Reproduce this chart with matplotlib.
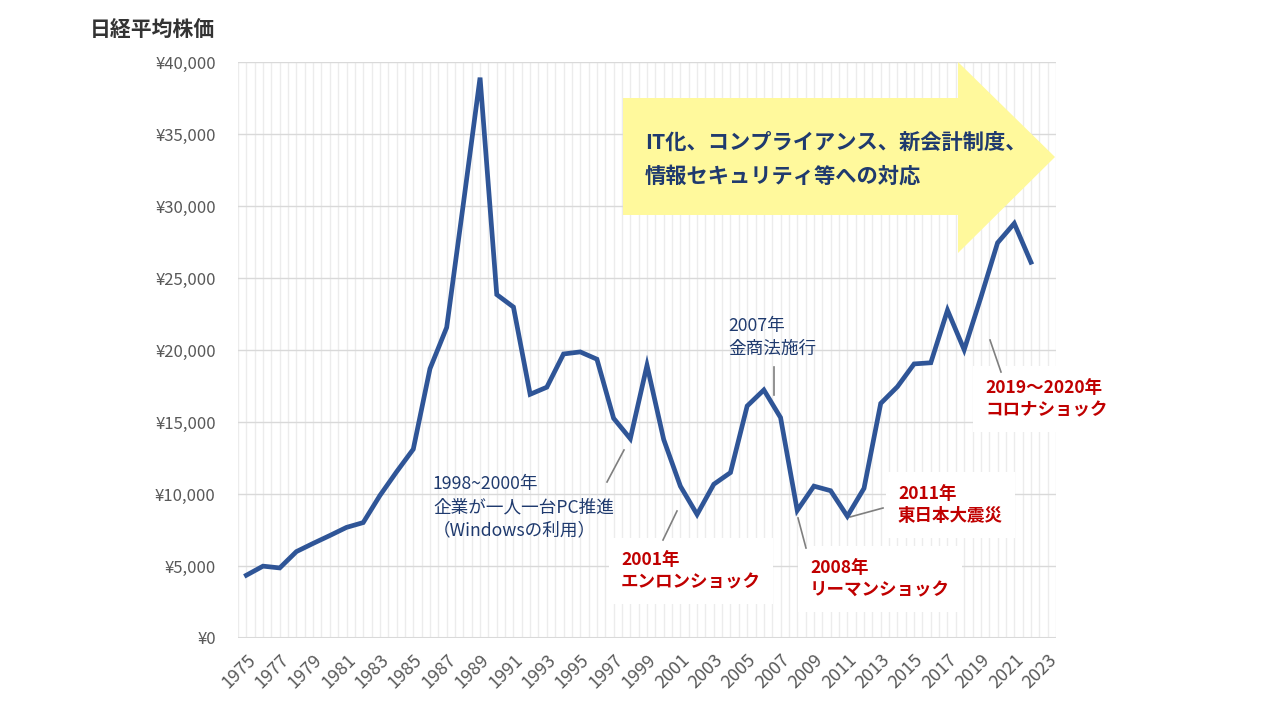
import matplotlib
matplotlib.use("Agg")
import matplotlib.pyplot as plt
from matplotlib.patches import Polygon
import numpy as np

plt.rcParams['font.family'] = ['Noto Sans CJK JP', 'DejaVu Sans']

# 日経平均株価 (年末終値)
years = list(range(1975, 2024))
nikkei = [4358, 4990, 4865, 6001, 6569, 7116, 7681, 8016, 9893, 11542,
          13113, 18701, 21564, 30159, 38915, 23848, 22983, 16924, 17417, 19723,
          19868, 19361, 15258, 13842, 18934, 13785, 10542, 8578, 10676, 11488,
          16111, 17225, 15307, 8859, 10546, 10228, 8455, 10395, 16291, 17450,
          19033, 19114, 22764, 20014, 23656, 27444, 28791, 26094]
y_ticks = [0, 5000, 10000, 15000, 20000, 25000, 30000, 35000, 40000]
y_labels = ['¥{:,}'.format(v) for v in y_ticks]

navy = '#1f3a6e'
red = '#c00000'
line_blue = '#2f5597'
gray_txt = '#595959'

# axes geometry in pixels (figure 1280x720)
AX_L, AX_R, AX_T, AX_B = 238, 1056, 62, 638
NCAT = len(years)
cat_w = (AX_R - AX_L) / NCAT


def px(x, y):
    # pixel position -> data coordinates (for annotation layout only)
    return (x - AX_L) / cat_w - 0.5, (AX_B - y) / (AX_B - AX_T) * 40000


fig = plt.figure(figsize=(12.8, 7.2), dpi=100)
ax = fig.add_axes([AX_L / 1280, 1 - AX_B / 720, (AX_R - AX_L) / 1280, (AX_B - AX_T) / 720])

idx = np.arange(NCAT)
ax.set_xlim(-0.5, NCAT - 0.5)
ax.set_ylim(0, 40000)

# grid
for g in np.arange(-0.5, NCAT - 0.4, 0.5):
    ax.axvline(g, color='#ececec', lw=1.0, zorder=0)
for v in y_ticks[1:]:
    ax.axhline(v, color='#d9d9d9', lw=1.0, zorder=0.5)
for s in ax.spines.values():
    s.set_visible(False)
ax.axhline(0, color='#d9d9d9', lw=1.5, zorder=0.5)

ax.set_yticks(y_ticks)
ax.set_yticklabels(y_labels, fontsize=12, color=gray_txt)
ax.set_xticks(idx[::2])
ax.set_xticklabels([str(y) for y in years[::2]], rotation=45, ha='right',
                   rotation_mode='anchor', fontsize=13, color=gray_txt)
ax.tick_params(axis='y', length=0, pad=16)
ax.tick_params(axis='x', length=0, pad=9)

# yellow block arrow
arrow_px = [(623, 98), (958, 98), (958, 62), (1055, 157), (958, 253), (958, 215), (623, 215)]
ax.add_patch(Polygon([px(*p) for p in arrow_px], closed=True, facecolor='#fff99c',
                     edgecolor='none', zorder=1, clip_on=False))
ax.text(*px(645, 142), 'IT化、コンプライアンス、新会計制度、', fontsize=15.3, fontweight='bold',
        color=navy, va='center', ha='left', zorder=2)
ax.text(*px(645, 176), '情報セキュリティ等への対応', fontsize=15.3, fontweight='bold',
        color=navy, va='center', ha='left', zorder=2)

# main line
ax.plot(idx[:len(nikkei)], nikkei, color=line_blue, lw=3.4, zorder=4,
        solid_joinstyle='miter')

# annotations: (text, text pos px, color, bold, leader start px, leader end px)
notes = [
    ('1998~2000年\n企業が一人一台PC推進\n（Windowsの利用）', (433, 507), navy, False,
     (607, 482), (624, 450)),
    ('2007年\n金商法施行', (728, 337), navy, False, (774, 367), (774, 395)),
    ('2001年\nエンロンショック', (621, 571), red, True, (663, 540), (677, 511)),
    ('2008年\nリーマンショック', (810, 579), red, True, (798, 518), (806, 548)),
    ('2011年\n東日本大震災', (898, 505), red, True, (850, 517), (883, 508)),
    ('2019～2020年\nコロナショック', (985, 399), red, True, (990, 340), (1001, 372)),
]
for txt, pos, col, bold, p0, p1 in notes:
    ax.text(*px(*pos), txt, fontsize=12.6 if bold else 12.7, color=col, ha='left', va='center',
            fontweight='bold' if bold else 'normal', linespacing=1.35, zorder=3,
            bbox=dict(facecolor='white', edgecolor='none', pad=9) if bold else None)
    a, b = px(*p0), px(*p1)
    ax.plot([a[0], b[0]], [a[1], b[1]], color='#7f7f7f', lw=1.2, zorder=3)

fig.text(90 / 1280, 1 - 30 / 720, '日経平均株価', fontsize=15, fontweight='bold',
         color='#333333', ha='left', va='center')

fig.savefig('out.png', dpi=100, facecolor='white')
